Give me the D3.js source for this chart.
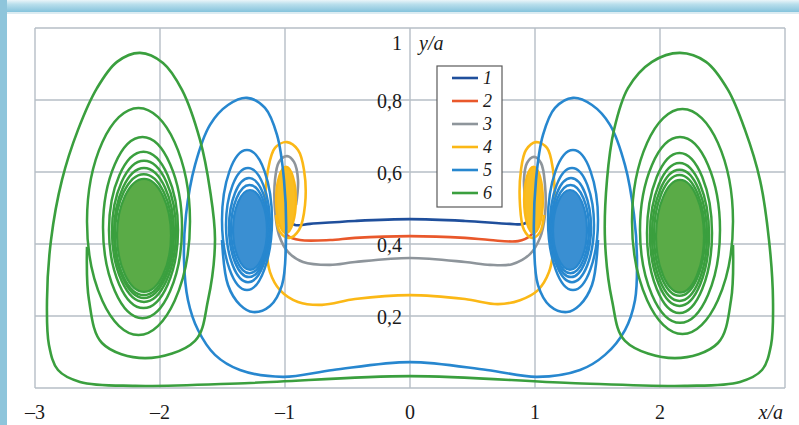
<!DOCTYPE html>
<html>
<head>
<meta charset="utf-8">
<script src="https://cdn.jsdelivr.net/npm/d3@7"></script>
<style>
  html, body { margin: 0; padding: 0; background: #fff; }
  svg { display: block; }
</style>
</head>
<body>
<div id="chart"></div>
<script>
// ─── DATA (x/a, y/a) ───

const X_TICKS = [-3, -2, -1, 0, 1, 2];
const X_LABELS = ['–3', '–2', '–1', '0', '1', '2'];
const Y_TICKS = [0.2, 0.4, 0.6, 0.8, 1];
const Y_LABELS = ['0,2', '0,4', '0,6', '0,8', '1'];
const GRID_X = [-3, -2, -1, 0, 1, 2, 3];
const GRID_Y = [0, 0.2, 0.4, 0.6, 0.8, 1];

const SERIES = ['1', '2', '3', '4', '5', '6'];
const COLORS = ['#1f4f9c', '#e9582b', '#8e959b', '#fbb816', '#2787cf', '#3a9f3e'];
const CORE_COLORS = ['#1f4f9c', '#e9582b', '#8e959b', '#f9bd22', '#3a8fd2', '#5aab47'];

// streamlines (open paths, from the left vortex to the right one)
const path1 = [[-0.992, 0.508], [-0.984, 0.472], [-0.92, 0.453], [-0.8, 0.456], [-0.44, 0.464], [0, 0.469],
  [0.44, 0.464], [0.8, 0.456], [0.912, 0.456], [0.976, 0.472], [1.0, 0.508]];

const path2 = [[-0.944, 0.536], [-0.944, 0.578], [-0.984, 0.6], [-1.032, 0.578], [-1.04, 0.508], [-1.024, 0.453],
  [-0.976, 0.422], [-0.88, 0.411], [-0.64, 0.411], [-0.44, 0.417], [0, 0.422],
  [0.44, 0.417], [0.64, 0.411], [0.864, 0.408], [0.96, 0.422], [1.016, 0.453], [1.04, 0.508],
  [1.024, 0.572], [0.984, 0.597], [0.944, 0.572], [0.944, 0.522]];

const path3 = [[-0.912, 0.508], [-0.896, 0.578], [-0.928, 0.628], [-0.984, 0.644], [-1.048, 0.628], [-1.08, 0.578],
  [-1.08, 0.494], [-1.048, 0.425], [-0.976, 0.378], [-0.856, 0.35], [-0.64, 0.342], [-0.44, 0.35], [0, 0.361],
  [0.44, 0.35], [0.64, 0.342], [0.816, 0.344], [0.96, 0.372], [1.04, 0.417], [1.08, 0.481],
  [1.08, 0.564], [1.048, 0.625], [0.992, 0.642], [0.936, 0.625], [0.912, 0.578], [0.928, 0.508]];

const path4 = [[-1.072, 0.481], [-1.04, 0.433], [-0.968, 0.417], [-0.888, 0.439], [-0.84, 0.508], [-0.848, 0.606],
  [-0.896, 0.661], [-0.984, 0.683], [-1.08, 0.667], [-1.136, 0.606], [-1.16, 0.508], [-1.152, 0.397],
  [-1.12, 0.322], [-1.04, 0.272], [-0.896, 0.239], [-0.704, 0.231], [-0.44, 0.247], [0, 0.258],
  [0.44, 0.247], [0.704, 0.233], [0.88, 0.244], [1.024, 0.272], [1.112, 0.322], [1.152, 0.397],
  [1.16, 0.508], [1.144, 0.606], [1.096, 0.667], [1.008, 0.683], [0.928, 0.661], [0.888, 0.606],
  [0.88, 0.508], [0.912, 0.439], [0.976, 0.417], [1.04, 0.433], [1.072, 0.481]];

const path5 = [[-1.504, 0.411], [-1.456, 0.286], [-1.36, 0.231], [-1.256, 0.211], [-1.12, 0.228], [-1.024, 0.286],
  [-0.992, 0.411], [-1.008, 0.578], [-1.064, 0.703], [-1.16, 0.778], [-1.304, 0.806], [-1.456, 0.786],
  [-1.6, 0.731], [-1.72, 0.619], [-1.792, 0.481], [-1.808, 0.356], [-1.776, 0.244], [-1.696, 0.161],
  [-1.56, 0.092], [-1.36, 0.05], [-1.016, 0.031], [-0.616, 0.05], [0, 0.072],
  [0.616, 0.05], [1.016, 0.031], [1.36, 0.05], [1.56, 0.092], [1.72, 0.161], [1.8, 0.244],
  [1.816, 0.356], [1.792, 0.481], [1.72, 0.619], [1.6, 0.731], [1.456, 0.786], [1.304, 0.806],
  [1.16, 0.778], [1.064, 0.703], [1.008, 0.578], [0.992, 0.411], [1.024, 0.286], [1.12, 0.228],
  [1.256, 0.211], [1.36, 0.231], [1.456, 0.286], [1.504, 0.411]];

const path6 = [[-2.584, 0.392], [-2.568, 0.244], [-2.464, 0.125], [-2.12, 0.083], [-1.72, 0.131], [-1.616, 0.244],
  [-1.56, 0.411], [-1.6, 0.55], [-1.68, 0.689], [-1.824, 0.828], [-1.976, 0.903], [-2.16, 0.931],
  [-2.344, 0.906], [-2.504, 0.833], [-2.656, 0.717], [-2.784, 0.578], [-2.872, 0.411], [-2.904, 0.244],
  [-2.888, 0.119], [-2.816, 0.05], [-2.64, 0.017], [-2.2, 0.006], [-1.28, 0.014], [0, 0.033],
  [1.28, 0.014], [2.2, 0.006], [2.64, 0.017], [2.816, 0.05], [2.888, 0.119], [2.904, 0.244],
  [2.872, 0.411], [2.8, 0.578], [2.68, 0.717], [2.544, 0.828], [2.368, 0.906], [2.16, 0.931],
  [1.936, 0.906], [1.744, 0.833], [1.632, 0.717], [1.576, 0.578], [1.56, 0.411], [1.616, 0.244],
  [1.72, 0.131], [2.12, 0.083], [2.464, 0.125], [2.568, 0.244], [2.584, 0.397]];

// inner spiral turns: [left, right, bottom, top]
const loops5 = [
  [-1.504, -1.104, 0.272, 0.661], [-1.472, -1.12, 0.294, 0.611], [-1.448, -1.128, 0.308, 0.583], [-1.432, -1.136, 0.319, 0.564],
  [1.104, 1.504, 0.272, 0.661], [1.12, 1.472, 0.294, 0.611], [1.128, 1.448, 0.308, 0.583], [1.136, 1.432, 0.319, 0.564]
];
const loops6 = [
  [-2.584, -1.76, 0.147, 0.778], [-2.456, -1.824, 0.194, 0.697], [-2.408, -1.856, 0.222, 0.656],
  [-2.384, -1.872, 0.239, 0.631], [-2.368, -1.888, 0.25, 0.611], [-2.36, -1.9, 0.258, 0.594],
  [1.776, 2.584, 0.15, 0.775], [1.84, 2.48, 0.181, 0.697], [1.896, 2.416, 0.208, 0.653],
  [1.92, 2.392, 0.228, 0.625], [1.936, 2.376, 0.242, 0.606], [1.952, 2.36, 0.256, 0.592]
];
// dense vortex cores: [left, right, bottom, top]
const cores4 = [[-1.072, -0.912, 0.43, 0.615], [0.912, 1.064, 0.43, 0.615]];
const cores5 = [[-1.416, -1.144, 0.328, 0.55], [1.144, 1.416, 0.328, 0.55]];
const cores6 = [[-2.344, -1.912, 0.267, 0.581], [1.968, 2.352, 0.265, 0.578]];

const PATHS = [path1, path2, path3, path4, path5, path6];
const LOOPS = [[], [], [], [], loops5, loops6];
const CORES = [[], [], [], cores4, cores5, cores6];

// ─── DRAW ───

const W = 799, H = 425;
const svg = d3.select('#chart').append('svg').attr('width', W).attr('height', H);

// page decoration (blue frame of the scan)
const defs = svg.append('defs');
const grad = defs.append('linearGradient').attr('id', 'band').attr('x1', 0).attr('y1', 0).attr('x2', 0).attr('y2', 1);
grad.append('stop').attr('offset', '0%').attr('stop-color', '#eaf5f9');
grad.append('stop').attr('offset', '35%').attr('stop-color', '#b9dfec');
grad.append('stop').attr('offset', '100%').attr('stop-color', '#85c3dc');
svg.append('rect').attr('width', W).attr('height', H).attr('fill', '#fff');
svg.append('rect').attr('x', 0).attr('y', 0).attr('width', W).attr('height', 12).attr('fill', 'url(#band)');
svg.append('rect').attr('x', 0).attr('y', 0).attr('width', 7).attr('height', H).attr('fill', '#8ec5db');
svg.append('rect').attr('x', 7).attr('y', 12).attr('width', W - 7).attr('height', 2).attr('fill', '#dcecf2');

const x = d3.scaleLinear().domain([-3, 3]).range([35, 785]);
const y = d3.scaleLinear().domain([0, 1]).range([388, 28]);

const g = svg.append('g');

// grid
g.selectAll('.gx').data(GRID_X).join('line')
  .attr('x1', d => x(d)).attr('x2', d => x(d))
  .attr('y1', y(0)).attr('y2', y(1))
  .attr('stroke', '#b6bec6').attr('stroke-width', 1.4);
g.selectAll('.gy').data(GRID_Y).join('line')
  .attr('x1', x(-3)).attr('x2', x(3))
  .attr('y1', d => y(d)).attr('y2', d => y(d))
  .attr('stroke', '#b6bec6').attr('stroke-width', 1.4);

// curves
const openLine = d3.line().x(d => x(d[0])).y(d => y(d[1])).curve(d3.curveCatmullRom.alpha(0.5));
const closedLine = d3.line().x(d => x(d[0])).y(d => y(d[1])).curve(d3.curveCardinalClosed.tension(-0.6));
const ring = b => {
  const cx = (b[0] + b[1]) / 2, cy = (b[2] + b[3]) / 2;
  return [[b[0], cy], [cx, b[3]], [b[1], cy], [cx, b[2]]];
};

SERIES.forEach((s, i) => {
  const sg = g.append('g').attr('class', 'series-' + s);
  sg.append('path').attr('d', openLine(PATHS[i]))
    .attr('fill', 'none').attr('stroke', COLORS[i]).attr('stroke-width', 2.6)
    .attr('stroke-linejoin', 'round');
  LOOPS[i].forEach(b => {
    sg.append('path').attr('d', closedLine(ring(b)))
      .attr('fill', 'none').attr('stroke', COLORS[i]).attr('stroke-width', 2.5);
  });
  CORES[i].forEach(b => {
    sg.append('path').attr('d', closedLine(ring(b)))
      .attr('fill', CORE_COLORS[i]).attr('stroke', COLORS[i]).attr('stroke-width', 2.2);
  });
});

// tick labels
const font = '"Liberation Serif", "Times New Roman", serif';
g.selectAll('.xl').data(X_TICKS).join('text')
  .attr('x', d => x(d)).attr('y', 419)
  .attr('text-anchor', 'middle')
  .attr('font-family', font).attr('font-size', 20).attr('fill', '#1a1a1a')
  .text((d, i) => X_LABELS[i]);
g.append('text').attr('x', x(3) - 2).attr('y', 419).attr('text-anchor', 'end')
  .attr('font-family', font).attr('font-size', 20).attr('font-style', 'italic').attr('fill', '#1a1a1a')
  .text('x/a');

g.selectAll('.yl').data(Y_TICKS).join('text')
  .attr('x', x(0) - 8)
  .attr('y', d => d === 1 ? y(d) + 22 : y(d) + 8)
  .attr('text-anchor', 'end')
  .attr('font-family', font).attr('font-size', 20).attr('fill', '#1a1a1a')
  .text((d, i) => Y_LABELS[i]);
g.append('text').attr('x', x(0) + 9).attr('y', y(1) + 22)
  .attr('font-family', font).attr('font-size', 20).attr('font-style', 'italic').attr('fill', '#1a1a1a')
  .text('y/a');

// legend
const lg = g.append('g').attr('transform', 'translate(437,66)');
lg.append('rect').attr('width', 65).attr('height', 141)
  .attr('fill', '#fff').attr('stroke', '#5a5a5a').attr('stroke-width', 1.2);
SERIES.forEach((s, i) => {
  const ly = 12 + i * 23;
  lg.append('line').attr('x1', 15).attr('x2', 41).attr('y1', ly).attr('y2', ly)
    .attr('stroke', COLORS[i]).attr('stroke-width', 2.6);
  lg.append('text').attr('x', 46).attr('y', ly + 6)
    .attr('font-family', font).attr('font-size', 18).attr('font-style', 'italic').attr('fill', '#1a1a1a')
    .text(s);
});
</script>
</body>
</html>
